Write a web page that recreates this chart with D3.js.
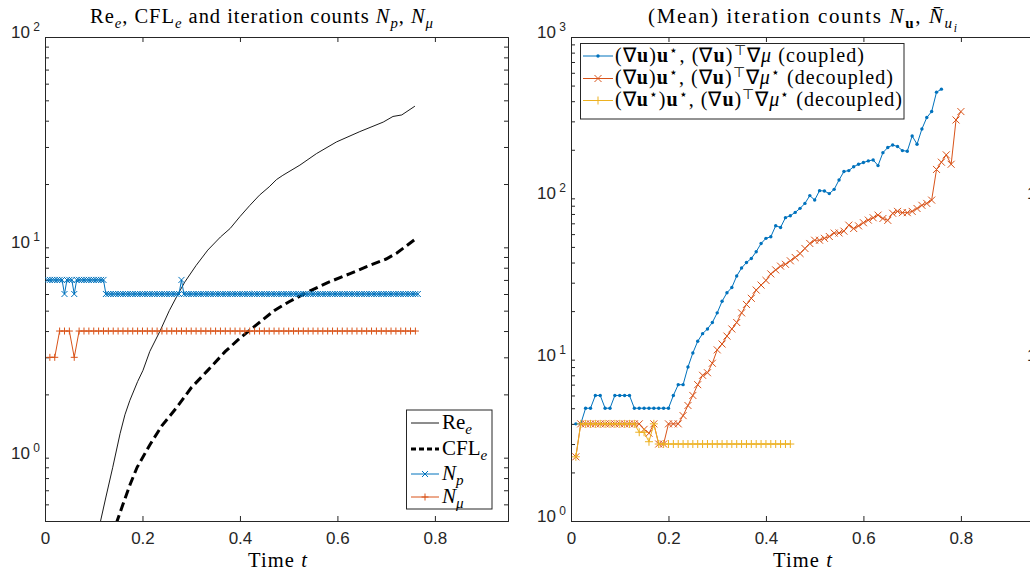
<!DOCTYPE html>
<html><head><meta charset="utf-8">
<script src="https://cdn.jsdelivr.net/npm/d3@7"></script>
<style>body{margin:0;background:#fff}</style>
</head><body>
<svg id="c" width="1030" height="572"></svg>
<script>
// ---------- data ----------
const xTicks = [0, 0.2, 0.4, 0.6, 0.8];
const leftDecades = [1, 10, 100];
const rightDecades = [1, 10, 100, 1000];

const reT   = [0.10,0.114,0.125,0.139,0.154,0.164,0.174,0.19,0.201,0.215,0.236,0.255,0.273,0.287,0.31,0.334,0.36,0.38,0.40,0.42,0.44,0.46,0.475,0.488,0.523,0.557,0.598,0.646,0.694,0.714,0.732,0.759];
const reVal = [0.38,0.5,0.65,0.9,1.3,1.6,1.87,2.3,2.6,3.2,4.0,5.0,6.0,6.85,8.2,9.7,11.2,12.3,14.0,15.8,17.7,19.4,21,22,24.6,27.9,31.7,35.5,39.4,41.9,42.6,46.9];

const cflT   = [0.14,0.148,0.16,0.175,0.189,0.215,0.24,0.27,0.30,0.334,0.37,0.40,0.435,0.47,0.50,0.537,0.58,0.626,0.66,0.70,0.722,0.74,0.759];
const cflVal = [0.42,0.5,0.6,0.75,0.9,1.15,1.42,1.73,2.15,2.6,3.2,3.7,4.3,5.0,5.5,6.1,6.8,7.5,8.1,8.8,9.4,10.1,10.9];

// N_p: one value every 0.005 starting at t = 0.005 (153 values)
const npStep = 0.005;
const npVal = [
  7,7,7,7,7,7,7,6,7,7,  7,6,7,7,7,7,7,7,7,7,  7,7,7,7,            // t = 0.005 .. 0.12
  6,6,6,6,6,6,6,6,6,6,  6,6,6,6,6,6,6,6,6,6,  6,6,6,6,6,6,6,6,6,6,  6, // t = 0.125 .. 0.275
  7,                                                          // t = 0.28
  6,6,6,6,6,6,6,6,6,6,  6,6,6,6,6,6,6,6,6,6,  6,6,6,6,6,6,6,6,6,6,
  6,6,6,6,6,6,6,6,6,6,  6,6,6,6,6,6,6,6,6,6,  6,6,6,6,6,6,6,6,6,6,
  6,6,6,6,6,6,6,6,6,6,  6,6,6,6,6,6,6,6,6,6,  6,6,6,6,6,6,6,6,6,6,
  6,6,6,6,6,6,6                                               // t = 0.285 .. 0.765
];
// N_mu: one value every 0.01 starting at t = 0.01
const nmuStep = 0.01;
const nmuVal = [3,3,4,4,4,3,4,4,4,4, 4,4,4,4,4,4,4,4,4,4, 4,4,4,4,4,4,4,4,4,4, 4,4,4,4,4,4,4,4,4,4,
  4,4,4,4,4,4,4,4,4,4, 4,4,4,4,4,4,4,4,4,4, 4,4,4,4,4,4,4,4,4,4, 4,4,4,4,4,4];

// right panel, one value every 0.01 starting at t = 0.01
const rStep = 0.01;
const coupledVal = [4,4,5,5,6,6,5,5,6,6,6,6,5,5,5,5,5,5,5,5,
  6,7,7,9,11,13,14.5,15.5,17,19.5,23,26,28,33,37,40,42.4,46.7,52.5,56.5,57.8,67.6,66,75.9,78,81.8,86.7,93,104,97.6,
  111.6,111,107,113.7,130,146.6,148.6,157,162.6,166.7,170.6,173,159.6,192,206.5,214,209.5,197.7,196,243.6,216.5,269,316.7,345,455,475];
const decoupledVal = [2.5,4,4,4,4,4,4,4,4,4,4,4,4,4,3.7,3.5,4,3,3,4,4,4,4.5,5.2,6,7,8,8.3,9.5,11.5,12.5,14,15.5,17,19.5,22,24,27,29,31,
  34,36,38,39,41,43,45.5,48.9,52.5,55,55,56.5,58,60.9,61,62.6,68.2,65,67.5,70.6,73.3,75.8,78.7,75,73,80.8,83,81.5,81.5,83,86.5,90.5,93,97.5,151,167.5,186,162.6,306,345];
const decoupled2Val = [2.5,4,4,4,4,4,4,4,4,4,4,4,4,3.55,3.55,3.1,4,3,3,3,3,3,3,3,3,3,3,3,3,3,3,3,3,3,3,3,3,3,3,3,3,3,3,3,3];

// ---------- drawing ----------
const svg = d3.select("#c");
const SERIF = "'Liberation Serif', 'Times New Roman', serif";
const SANS = "'Liberation Sans', Arial, sans-serif";
const AX = "#262626";
const BLUE = "#0072BD", ORANGE = "#D95319", YELLOW = "#EDB120";

const yTop = 37, yBot = 521;
const xL = d3.scaleLinear().domain([0, 0.95]).range([45, 508]);
const yL = d3.scaleLog().domain([0.5, 100]).range([yBot, yTop]);
const xR = d3.scaleLinear().domain([0, 0.95]).range([571, 1034]);
const yR = d3.scaleLog().domain([1, 1000]).range([yBot, yTop]);

function rich(sel, segs, size) {
  let cur = 0;
  segs.forEach(s => {
    let shift = 0, fs = size;
    if (s.sub) { shift = size * 0.25; fs = size * 0.72; }
    if (s.sub2) { shift = size * 0.42; fs = size * 0.55; }
    if (s.sup) { shift = -size * 0.35; fs = size * 0.68; }
    const ts = sel.append("tspan").text(s.t).attr("dy", shift - cur).attr("font-size", fs);
    if (s.it) ts.attr("font-style", "italic");
    if (s.b) ts.attr("font-weight", "bold");
    cur = shift;
  });
}
function fit(sel, w) {
  sel.attr("textLength", w).attr("lengthAdjust", "spacing");
}

function minorTicks(dom) {
  const out = [];
  for (let d = Math.pow(10, Math.floor(Math.log10(dom[0]))); d < dom[1]; d *= 10)
    for (let k = 1; k <= 9; k++) { const v = d * k; if (v >= dom[0] - 1e-9 && v <= dom[1] + 1e-9) out.push(v); }
  return out;
}

function frame(x, y, decades, clipId, xlabelX) {
  const g = svg.append("g");
  const x0 = x.range()[0], x1 = x.range()[1];
  svg.append("clipPath").attr("id", clipId).append("rect")
    .attr("x", x0).attr("y", yTop).attr("width", x1 - x0).attr("height", yBot - yTop);
  const ab = d3.axisBottom(x).tickValues(xTicks).tickSize(-5).tickPadding(11).tickFormat(d3.format(""));
  const gb = g.append("g").attr("transform", `translate(0,${yBot})`).call(ab);
  gb.selectAll("text").attr("font-family", SANS).attr("font-size", 17).attr("fill", AX);
  const at = d3.axisTop(x).tickValues(xTicks).tickSize(-5).tickFormat("");
  g.append("g").attr("transform", `translate(0,${yTop})`).call(at);
  const mins = minorTicks(y.domain());
  const al = d3.axisLeft(y).tickValues(mins).tickSize(-4).tickFormat("");
  g.append("g").attr("transform", `translate(${x0},0)`).call(al);
  const ar = d3.axisRight(y).tickValues(mins).tickSize(-4).tickFormat("");
  g.append("g").attr("transform", `translate(${x1},0)`).call(ar);
  g.selectAll("path.domain").attr("stroke", AX);
  g.selectAll(".tick line").attr("stroke", AX);
  decades.forEach(dv => {
    const e = Math.round(Math.log10(dv));
    const t = g.append("text").attr("x", x0 - 5).attr("y", y(dv) + 1)
      .attr("text-anchor", "end").attr("font-family", SANS).attr("fill", AX).attr("font-size", 17);
    t.append("tspan").text("10");
    t.append("tspan").text(" " + e).attr("font-size", 12).attr("dy", -7);
  });
  const xl = g.append("text").attr("x", xlabelX).attr("y", 567)
    .attr("font-family", SERIF).attr("font-size", 20.5).attr("fill", "#000");
  rich(xl, [{t: "Time "}, {t: "t", it: true}], 20.5);
  fit(xl, 59);
  return g;
}

function series(g, x, y, tArr, vArr, color, width, dash, clipId) {
  const pts = tArr.map((t, i) => [t, vArr[i]]);
  const line = d3.line().x(d => x(d[0])).y(d => y(d[1]));
  g.append("path").datum(pts).attr("d", line).attr("fill", "none")
    .attr("stroke", color).attr("stroke-width", width)
    .attr("stroke-dasharray", dash || null).attr("clip-path", `url(#${clipId})`);
  return pts;
}
function markers(g, x, y, pts, kind, color, sz, clipId) {
  const m = g.append("g").attr("clip-path", `url(#${clipId})`);
  pts.forEach(p => drawMarker(m, x(p[0]), y(p[1]), kind, color, sz));
}
function drawMarker(g, cx, cy, kind, color, sz) {
  if (kind === "dot") {
    g.append("circle").attr("cx", cx).attr("cy", cy).attr("r", sz).attr("fill", color);
  } else if (kind === "x") {
    g.append("path").attr("d", `M${cx-sz},${cy-sz}L${cx+sz},${cy+sz}M${cx-sz},${cy+sz}L${cx+sz},${cy-sz}`)
      .attr("stroke", color).attr("stroke-width", 1).attr("fill", "none");
  } else {
    g.append("path").attr("d", `M${cx-sz},${cy}H${cx+sz}M${cx},${cy-sz}V${cy+sz}`)
      .attr("stroke", color).attr("stroke-width", 1).attr("fill", "none");
  }
}

// ---- left panel ----
const gL = frame(xL, yL, leftDecades, "clipL", 248);
series(gL, xL, yL, reT, reVal, "#000", 0.9, null, "clipL");
series(gL, xL, yL, cflT, cflVal, "#000", 3, "9,4.5", "clipL");
const npT = npVal.map((v, i) => (i + 1) * npStep);
const npPts = series(gL, xL, yL, npT, npVal, BLUE, 1, null, "clipL");
markers(gL, xL, yL, npPts, "x", BLUE, 3, "clipL");
const nmuT = nmuVal.map((v, i) => (i + 1) * nmuStep);
const nmuPts = series(gL, xL, yL, nmuT, nmuVal, ORANGE, 1, null, "clipL");
markers(gL, xL, yL, nmuPts, "+", ORANGE, 3.5, "clipL");

const tl = svg.append("text").attr("x", 90).attr("y", 23)
  .attr("font-family", SERIF).attr("font-size", 20.5).attr("fill", "#000");
rich(tl, [{t: "Re"}, {t: "e", sub: true, it: true}, {t: ", CFL"}, {t: "e", sub: true, it: true},
  {t: " and iteration counts "}, {t: "N", it: true}, {t: "p", sub: true, it: true}, {t: ", "},
  {t: "N", it: true}, {t: "μ", sub: true, it: true}], 20.5);
fit(tl, 343);

const lg = svg.append("g");
lg.append("rect").attr("x", 406.5).attr("y", 410).attr("width", 85.5).attr("height", 99)
  .attr("fill", "#fff").attr("stroke", AX).attr("stroke-width", 1);
const lgRows = [
  {y: 423, color: "#000", w: 0.9, dash: null, mk: null, segs: [{t: "Re"}, {t: "e", sub: true, it: true}]},
  {y: 449, color: "#000", w: 3, dash: "5,3", mk: null, segs: [{t: "CFL"}, {t: "e", sub: true, it: true}]},
  {y: 474, color: BLUE, w: 1, dash: null, mk: "x", segs: [{t: "N", it: true}, {t: "p", sub: true, it: true}]},
  {y: 497, color: ORANGE, w: 1, dash: null, mk: "+", segs: [{t: "N", it: true}, {t: "μ", sub: true, it: true}]}
];
lgRows.forEach(r => {
  lg.append("line").attr("x1", 411).attr("x2", 439).attr("y1", r.y).attr("y2", r.y)
    .attr("stroke", r.color).attr("stroke-width", r.w).attr("stroke-dasharray", r.dash);
  if (r.mk) drawMarker(lg, 425, r.y, r.mk, r.color, r.mk === "x" ? 3 : 3.5);
  const t = lg.append("text").attr("x", 442).attr("y", r.y + 6).attr("font-family", SERIF)
    .attr("font-size", 21).attr("fill", "#000");
  rich(t, r.segs, 21);
});

// ---- right panel ----
const gR = frame(xR, yR, rightDecades, "clipR", 773);
const cT = coupledVal.map((v, i) => (i + 1) * rStep);
const cPts = series(gR, xR, yR, cT, coupledVal, BLUE, 1, null, "clipR");
markers(gR, xR, yR, cPts, "dot", BLUE, 1.7, "clipR");
const dT = decoupledVal.map((v, i) => (i + 1) * rStep);
const dPts = series(gR, xR, yR, dT, decoupledVal, ORANGE, 1, null, "clipR");
markers(gR, xR, yR, dPts, "x", ORANGE, 3.5, "clipR");
const d2T = decoupled2Val.map((v, i) => (i + 1) * rStep);
const d2Pts = series(gR, xR, yR, d2T, decoupled2Val, YELLOW, 1, null, "clipR");
markers(gR, xR, yR, d2Pts, "+", YELLOW, 4, "clipR");

const tr = svg.append("text").attr("x", 648).attr("y", 23)
  .attr("font-family", SERIF).attr("font-size", 21).attr("fill", "#000");
rich(tr, [{t: "(Mean) iteration counts "}, {t: "N", it: true}, {t: "u", sub: true, b: true}, {t: ", "},
  {t: "N\u0304", it: true}, {t: "u", sub: true, it: true}, {t: "i", sub2: true, it: true}], 21);
fit(tr, 309);

const rg = svg.append("g");
rg.append("rect").attr("x", 580.5).attr("y", 43.5).attr("width", 323.5).attr("height", 75.5)
  .attr("fill", "#fff").attr("stroke", AX).attr("stroke-width", 1);
const U = {t: "u", b: true};
const rgRows = [
  {y: 56, w: 249, color: BLUE, mk: "dot", sz: 1.7, segs: [{t: "(∇"}, U, {t: ")"}, U, {t: "⋆", sup: true}, {t: ", (∇"}, U, {t: ")"}, {t: "⊤", sup: true}, {t: "∇"}, {t: "μ", it: true}, {t: " (coupled)"}]},
  {y: 78.5, w: 278, color: ORANGE, mk: "x", sz: 3.5, segs: [{t: "(∇"}, U, {t: ")"}, U, {t: "⋆", sup: true}, {t: ", (∇"}, U, {t: ")"}, {t: "⊤", sup: true}, {t: "∇"}, {t: "μ", it: true}, {t: "⋆", sup: true}, {t: " (decoupled)"}]},
  {y: 100.5, w: 287, color: YELLOW, mk: "+", sz: 4, segs: [{t: "(∇"}, U, {t: "⋆", sup: true}, {t: ")"}, U, {t: "⋆", sup: true}, {t: ", (∇"}, U, {t: ")"}, {t: "⊤", sup: true}, {t: "∇"}, {t: "μ", it: true}, {t: "⋆", sup: true}, {t: " (decoupled)"}]}
];
rgRows.forEach(r => {
  rg.append("line").attr("x1", 583).attr("x2", 613).attr("y1", r.y).attr("y2", r.y)
    .attr("stroke", r.color).attr("stroke-width", 1);
  drawMarker(rg, 598, r.y, r.mk, r.color, r.sz);
  const t = rg.append("text").attr("x", 615).attr("y", r.y + 5.5).attr("font-family", SERIF)
    .attr("font-size", 20).attr("fill", "#000");
  rich(t, r.segs, 20);
  fit(t, r.w);
});

[100, 10].forEach(v => {
  svg.append("text").attr("x", 1027).attr("y", yR(v) + 1).attr("font-family", SANS)
    .attr("font-size", 17).attr("fill", AX).text("10");
});
</script>
</body></html>
